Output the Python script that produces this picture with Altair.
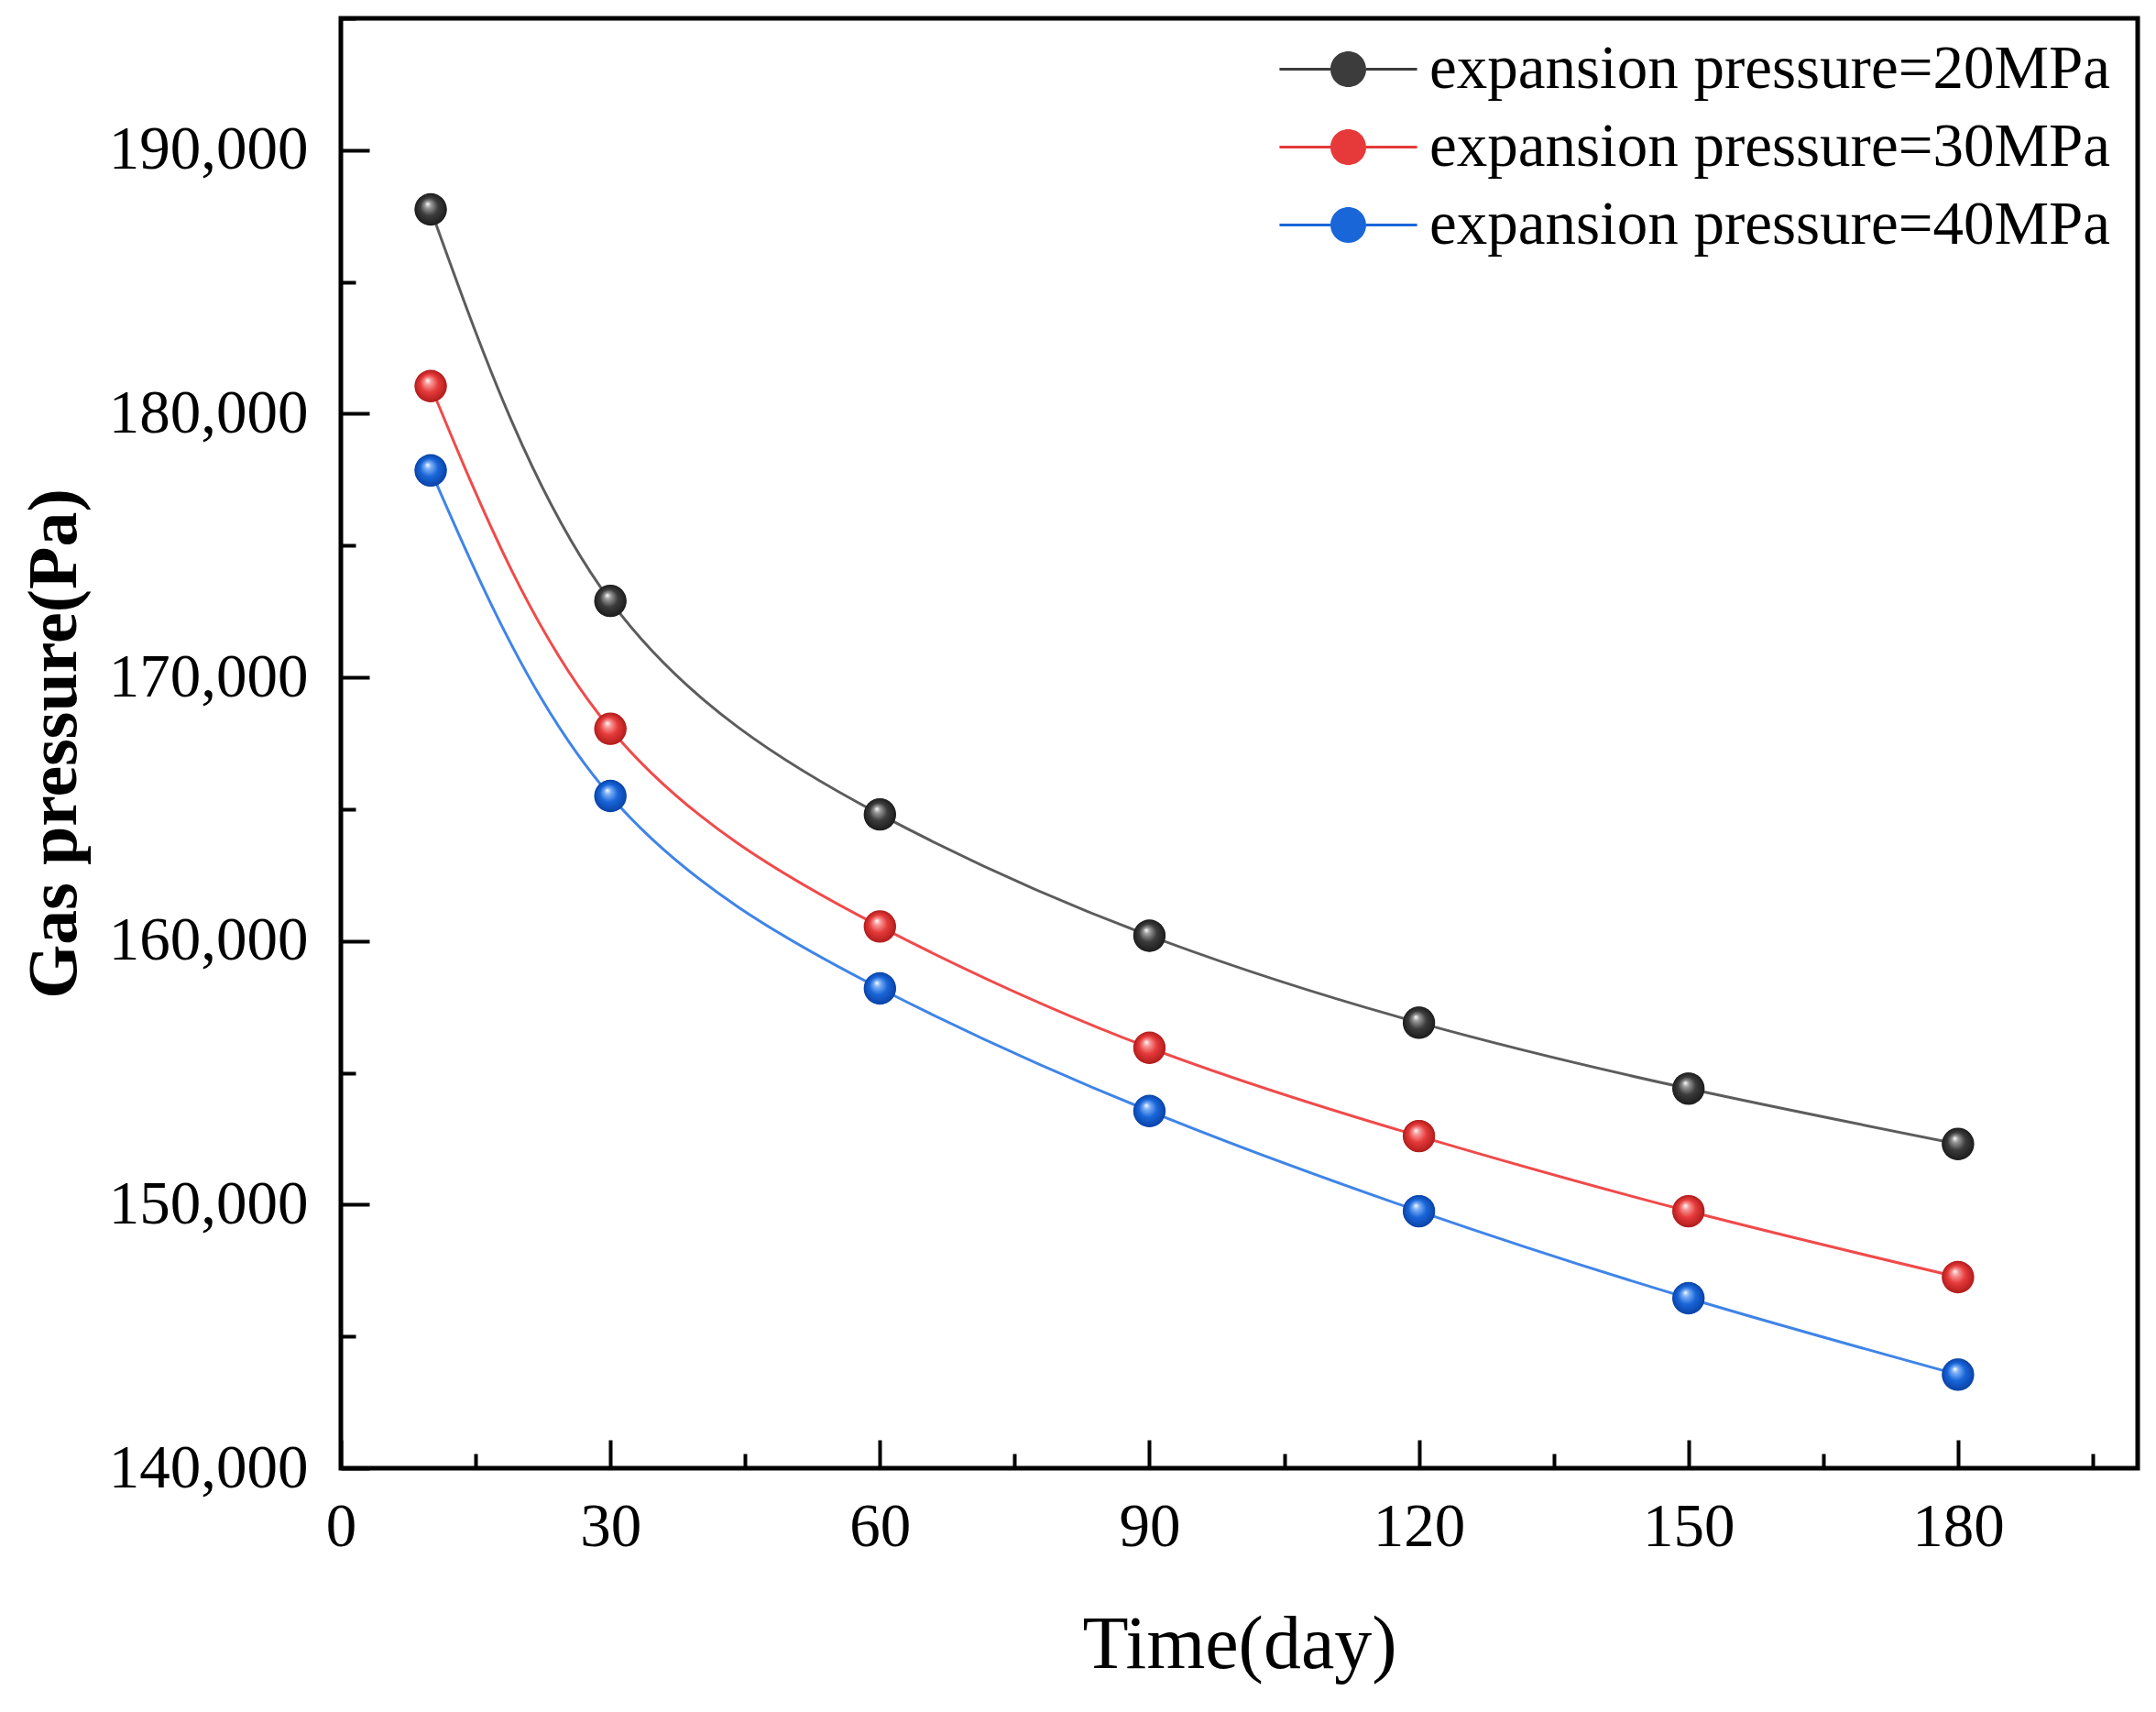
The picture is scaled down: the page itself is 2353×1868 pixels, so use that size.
import altair as alt
import pandas as pd

# data
days = [10, 30, 60, 90, 120, 150, 180]
series = ['expansion pressure=20MPa', 'expansion pressure=30MPa', 'expansion pressure=40MPa']
p20 = [187750, 172900, 164800, 160200, 156900, 154400, 152300]
p30 = [181050, 168050, 160550, 155950, 152600, 149750, 147250]
p40 = [177850, 165500, 158200, 153550, 149750, 146450, 143550]

major_x = [0, 30, 60, 90, 120, 150, 180]
minor_x = [15, 45, 75, 105, 135, 165, 195]
major_y = [140000, 150000, 160000, 170000, 180000, 190000]
minor_y = [145000, 155000, 165000, 175000, 185000, 195000]

line_colors = ['#5c5c5c', '#f04a4a', '#3f84e8']
ball_colors = ['#3c3c3c', '#e63a3a', '#1966d9']
ball_light = ['#9a9a9a', '#f79a9a', '#7fb0f5']
ball_edges = ['#1c1c1c', '#b01c1c', '#0a42a6']

FONT = 'Liberation Serif'

rows = []
for s, vals in zip(series, [p20, p30, p40]):
    for d, v in zip(days, vals):
        rows.append({'series': s, 'day': d, 'pressure': v})
df = pd.DataFrame(rows)

x_scale = alt.Scale(domain=[0, 200], nice=False, zero=False)
y_scale = alt.Scale(domain=[140000, 195000], nice=False, zero=False)

# axes principaux (graduations vers l'intérieur)
axes = alt.Chart(df).mark_point(opacity=0).encode(
    x=alt.X('day:Q', scale=x_scale,
            axis=alt.Axis(orient='bottom', values=major_x, offset=-31, tickSize=31,
                          labelPadding=31, labelFlush=False, title='Time(day)',
                          titleFontSize=82, titleFontWeight='normal', titlePadding=55)),
    y=alt.Y('pressure:Q', scale=y_scale,
            axis=alt.Axis(orient='left', values=major_y, offset=-31, tickSize=31,
                          format=',d', labelPadding=36, labelLimit=500, labelFlush=False,
                          title='Gas pressure(Pa)', titleFontSize=76,
                          titleFontWeight='bold', titleX=-305))
)

# petites graduations intermédiaires
minor = alt.Chart(df).mark_point(opacity=0).encode(
    x=alt.X('day:Q', scale=x_scale,
            axis=alt.Axis(orient='bottom', values=minor_x, offset=-16, tickSize=16,
                          labels=False, title=None)),
    y=alt.Y('pressure:Q', scale=y_scale,
            axis=alt.Axis(orient='left', values=minor_y, offset=-16, tickSize=16,
                          labels=False, title=None))
)

# courbes lissées, une par série
lines = []
for s, lc in zip(series, line_colors):
    lines.append(
        alt.Chart(df).transform_filter(alt.datum.series == s)
        .mark_line(interpolate='natural', strokeWidth=3, color=lc)
        .encode(x=alt.X('day:Q', scale=x_scale, axis=None),
                y=alt.Y('pressure:Q', scale=y_scale, axis=None))
    )

# symbole de légende : trait + bille
legend_path = ('M-3.85,-0.08L-1,-0.08L-1,0.08L-3.85,0.08Z'
               'M1,-0.08L3.85,-0.08L3.85,0.08L1,0.08Z'
               'M-1,0A1,1,0,1,1,1,0A1,1,0,1,1,-1,0Z')
leg = alt.Legend(title=None, orient='none', legendX=1066, legendY=22,
                 symbolType=legend_path, symbolSize=1521, symbolStrokeWidth=0,
                 symbolOpacity=1, labelFont=FONT, labelFontSize=67, labelColor='black',
                 labelOffset=55, labelLimit=1400, rowPadding=17, padding=0)

keys = alt.Chart(df).mark_point(shape='circle', size=1194, filled=True, opacity=1, strokeWidth=0).encode(
    x=alt.X('day:Q', scale=x_scale, axis=None),
    y=alt.Y('pressure:Q', scale=y_scale, axis=None),
    color=alt.Color('series:N', scale=alt.Scale(domain=series, range=ball_colors), legend=leg)
)

# billes avec reflet
balls = []
for s, c, lt, e in zip(series, ball_colors, ball_light, ball_edges):
    grad = alt.RadialGradient(
        gradient='radial',
        stops=[alt.GradientStop(offset=0, color='#ffffff'),
               alt.GradientStop(offset=0.2, color=lt),
               alt.GradientStop(offset=0.55, color=c),
               alt.GradientStop(offset=1, color=e)],
        x1=0.4, y1=0.32, r1=0, x2=0.5, y2=0.5, r2=0.5)
    balls.append(
        alt.Chart(df).transform_filter(alt.datum.series == s)
        .mark_point(shape='circle', size=1250, filled=True, opacity=1, strokeWidth=0, fill=grad)
        .encode(x=alt.X('day:Q', scale=x_scale, axis=None),
                y=alt.Y('pressure:Q', scale=y_scale, axis=None))
    )

chart = alt.layer(axes, minor, *lines, keys, *balls).resolve_axis(
    x='independent', y='independent'
).properties(
    width=1961, height=1582,
    autosize=alt.AutoSizeParams(type='none'),
    padding={'left': 364, 'top': 12, 'right': 12, 'bottom': 258}
).configure_view(
    stroke='black', strokeWidth=5
).configure_axis(
    grid=False, domain=False, tickColor='black', tickWidth=4,
    labelFont=FONT, labelFontSize=67, labelColor='black',
    titleFont=FONT, titleColor='black'
)

chart.save('out.html', embed_options={'renderer': 'svg', 'actions': False})
